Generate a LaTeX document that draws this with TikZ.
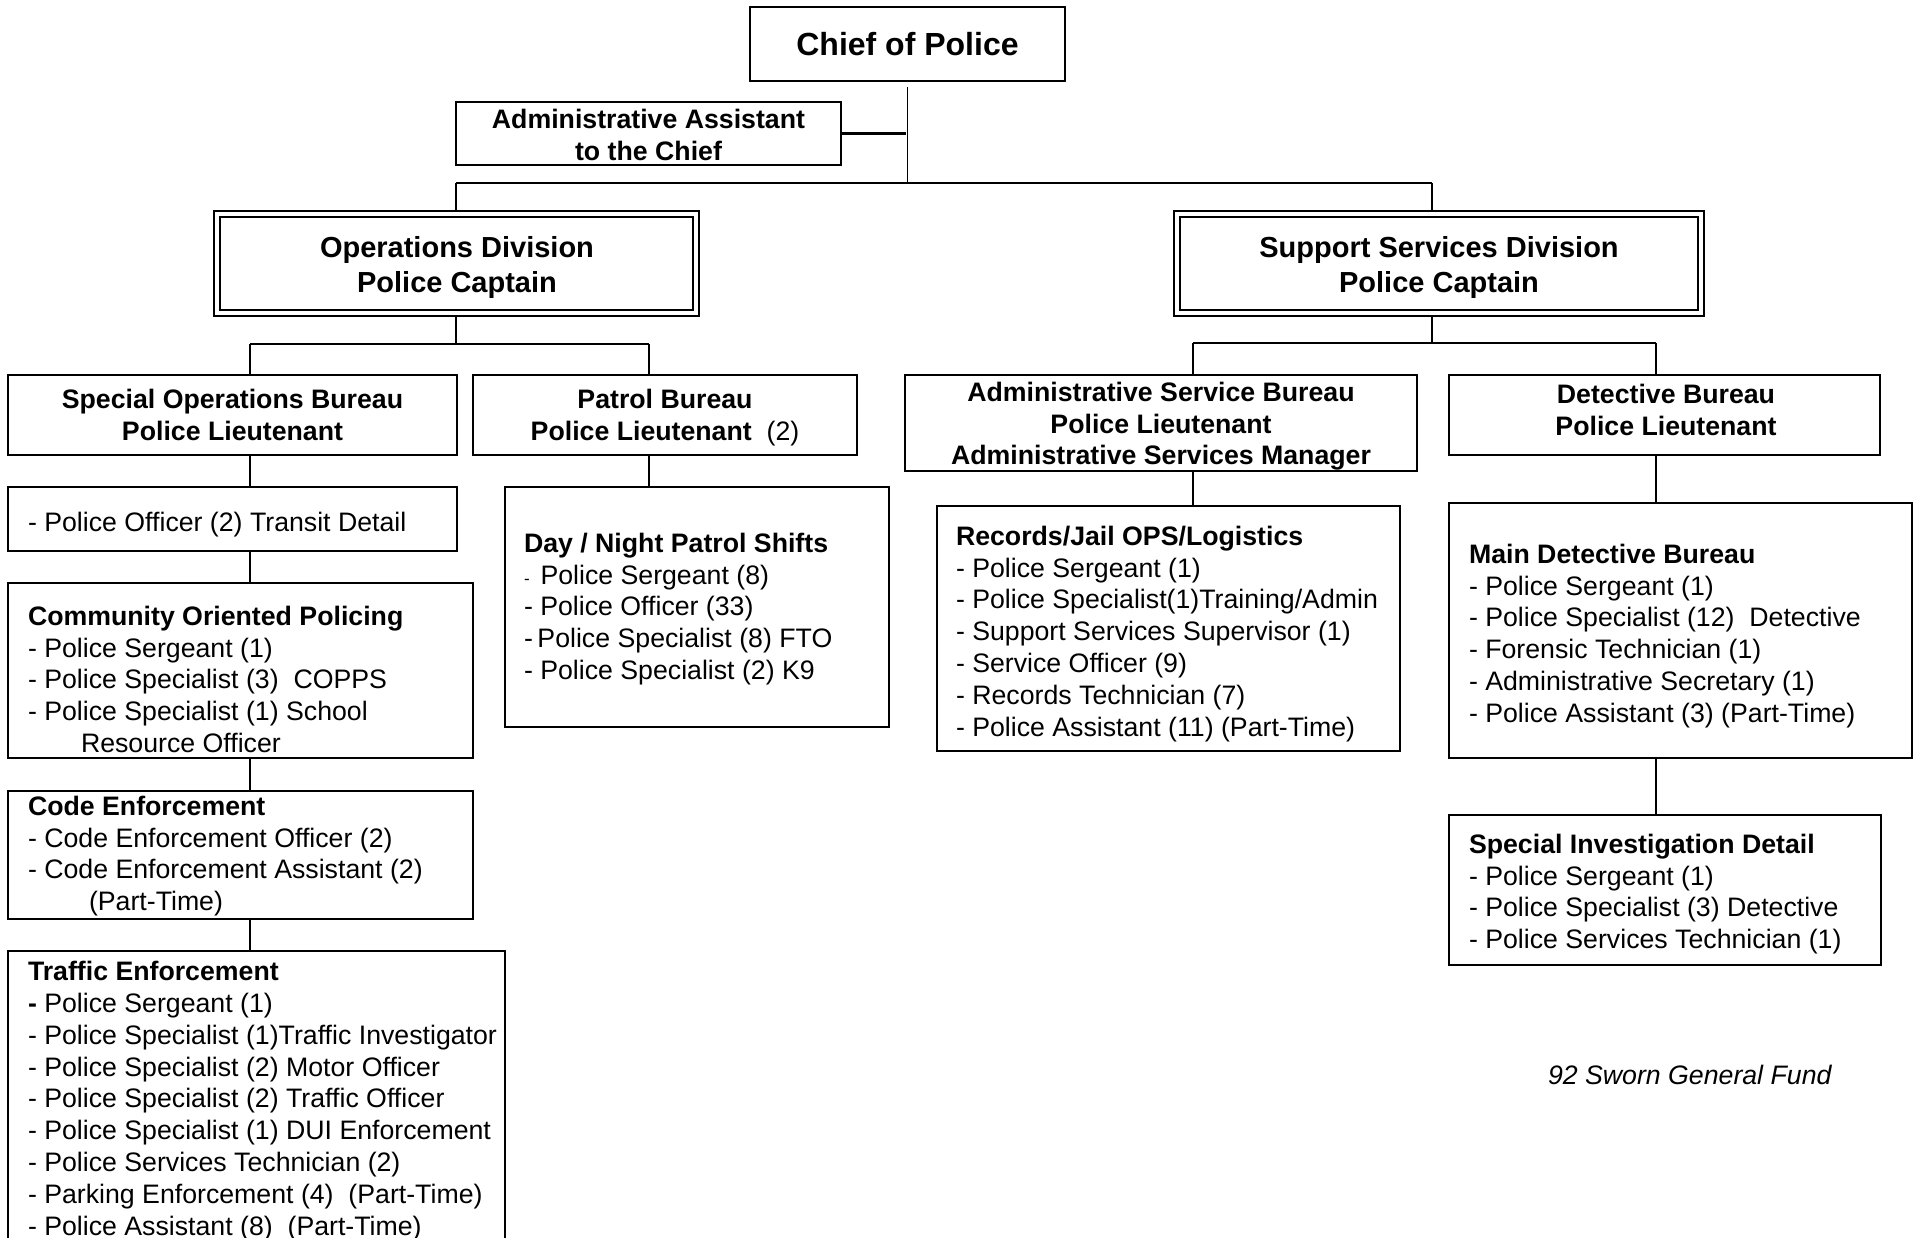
\documentclass[tikz,border=0pt]{standalone}
\usepackage{fontspec}
\setmainfont{Liberation Sans}
\usetikzlibrary{calc}

\begin{document}
\begin{tikzpicture}[x=1pt,y=-1pt,
  orgbox/.style={draw, line width=1.8pt, inner sep=0pt, outer sep=0pt, anchor=north west},
  lbl/.style={inner sep=0pt, outer sep=0pt, align=left, anchor=north west,
              font=\fontsize{26.7}{31.8}\selectfont},
  clbl/.style={lbl, align=center, anchor=north},
  hlbl/.style={clbl, font=\fontsize{26.7}{31.8}\selectfont\bfseries},
  divlbl/.style={clbl, font=\fontsize{29}{35}\selectfont\bfseries},
  link/.style={line width=1.6pt},
  barlink/.style={line width=2.4pt}]

\useasboundingbox (0,0) rectangle (1919,1238);
\fill[white] (0,0) rectangle (1919,1238);
\clip (0,0) rectangle (1919,1238);

% ---- top level ----
\node[orgbox, minimum width=315pt, minimum height=74pt,
      font=\fontsize{32}{38}\selectfont\bfseries] (chief) at (750,7) {Chief of Police};
\node[orgbox, minimum width=385pt, minimum height=63pt] (asst) at (456,102) {};
\node[hlbl] (asst-t) at (648.5,106.5) {\strut Administrative Assistant\\to the Chief};

% ---- divisions (double frame) ----
\node[orgbox, line width=2.6pt, minimum width=485pt, minimum height=105pt] (ops) at (214,211) {};
\draw[line width=1.6pt] ($(ops.north west)+(6,6)$) rectangle ($(ops.south east)+(-6,-6)$);
\node[divlbl] (ops-t) at (457,233) {\strut Operations Division\\Police Captain};

\node[orgbox, line width=2.6pt, minimum width=530pt, minimum height=105pt] (sup) at (1174,211) {};
\draw[line width=1.6pt] ($(sup.north west)+(6,6)$) rectangle ($(sup.south east)+(-6,-6)$);
\node[divlbl] (sup-t) at (1439,233) {\strut Support Services Division\\Police Captain};

% ---- bureaus ----
\node[orgbox, minimum width=449pt, minimum height=80pt] (sob) at (8,375) {};
\node[hlbl] (sob-t) at (232.5,386.5) {\strut Special Operations Bureau\\Police Lieutenant};

\node[orgbox, minimum width=384pt, minimum height=80pt] (patrol) at (473,375) {};
\node[clbl] (patrol-t) at (665,386.5) {\strut\textbf{Patrol Bureau}\\\textbf{Police Lieutenant}\ \ (2)};

\node[orgbox, minimum width=512pt, minimum height=96pt] (asb) at (905,375) {};
\node[hlbl] (asb-t) at (1161,379) {\strut Administrative Service Bureau\\Police Lieutenant\\Administrative Services Manager};

\node[orgbox, minimum width=431pt, minimum height=80pt] (det) at (1449,375) {};
\node[hlbl] (det-t) at (1666,381.5) {\strut Detective Bureau\\Police Lieutenant};

% ---- special operations column ----
\node[orgbox, minimum width=449pt, minimum height=64pt] (transit) at (8,487) {};
\node[lbl] (transit-t) at (28,509) {\strut - Police Officer (2) Transit Detail};

\node[orgbox, minimum width=465pt, minimum height=175pt] (cop) at (8,583) {};
\node[lbl] (cop-t) at (28,603) {\strut\textbf{Community Oriented Policing}\\
  - Police Sergeant (1)\\
  - Police Specialist (3)\ \ COPPS\\
  - Police Specialist (1) School\\
  \hspace*{53pt}Resource Officer};

\node[orgbox, minimum width=465pt, minimum height=128pt] (code) at (8,791) {};
\node[lbl] (code-t) at (28,793) {\strut\textbf{Code Enforcement}\\
  - Code Enforcement Officer (2)\\
  - Code Enforcement Assistant (2)\\
  \hspace*{61pt}(Part-Time)};

\node[orgbox, minimum width=497pt, minimum height=320pt] (traffic) at (8,951) {};
\node[lbl] (traffic-t) at (28,958.5) {\strut\textbf{Traffic Enforcement}\\
  \textbf{-} Police Sergeant (1)\\
  - Police Specialist (1)Traffic Investigator\\
  - Police Specialist (2) Motor Officer\\
  - Police Specialist (2) Traffic Officer\\
  - Police Specialist (1) DUI Enforcement\\
  - Police Services Technician (2)\\
  - Parking Enforcement (4)\ \ (Part-Time)\\
  - Police Assistant (8)\ \ (Part-Time)};

% ---- patrol column ----
\node[orgbox, minimum width=384pt, minimum height=240pt] (shifts) at (505,487) {};
\node[lbl] (shifts-t) at (524,530) {\strut\textbf{Day / Night Patrol Shifts}\\
  \makebox[16.5pt][l]{\fontsize{17}{17}\selectfont -}Police Sergeant (8)\\
  - Police Officer (33)\\
  \makebox[13.5pt][l]{-}Police Specialist (8) FTO\\
  - Police Specialist (2) K9};

% ---- administrative services column ----
\node[orgbox, minimum width=463pt, minimum height=245pt] (records) at (937,506) {};
\node[lbl] (records-t) at (956,523) {\strut\textbf{Records/Jail OPS/Logistics}\\
  - Police Sergeant (1)\\
  - Police Specialist(1)Training/Admin\\
  - Support Services Supervisor (1)\\
  - Service Officer (9)\\
  - Records Technician (7)\\
  - Police Assistant (11) (Part-Time)};

% ---- detective column ----
\node[orgbox, minimum width=463pt, minimum height=255pt] (maindet) at (1449,503) {};
\node[lbl] (maindet-t) at (1469,541) {\strut\textbf{Main Detective Bureau}\\
  - Police Sergeant (1)\\
  - Police Specialist (12)\ \ Detective\\
  - Forensic Technician (1)\\
  - Administrative Secretary (1)\\
  - Police Assistant (3) (Part-Time)};

\node[orgbox, minimum width=432pt, minimum height=150pt] (sid) at (1449,815) {};
\node[lbl] (sid-t) at (1469,831) {\strut\textbf{Special Investigation Detail}\\
  - Police Sergeant (1)\\
  - Police Specialist (3) Detective\\
  - Police Services Technician (1)};

\node[lbl, anchor=west] (fund) at (1548,1075) {\itshape 92 Sworn General Fund};

% ---- trunk positions ----
\coordinate (hub) at (906,183);
\coordinate (opsx) at (456,0);
\coordinate (supx) at (1432,0);
\coordinate (opsbar) at (0,344);
\coordinate (supbar) at (0,343);
\coordinate (sobx) at (250,0);
\coordinate (patx) at (649,0);
\coordinate (asbx) at (1193,0);
\coordinate (detx) at (1656,0);

% ---- connectors ----
\draw[link] ($(chief.south)+(0,6)$) -- (chief.south |- hub);
\draw[barlink] (asst.east) -- (asst.east -| hub);
\draw[barlink] (hub -| opsx) -- (hub -| supx);
\draw[link] (hub -| opsx) -- (ops.north -| opsx);
\draw[link] (hub -| supx) -- (sup.north -| supx);

\draw[link] (ops.south -| opsx) -- (opsbar -| opsx);
\draw[link] (opsbar -| sobx) -- (opsbar -| patx);
\draw[link] (opsbar -| sobx) -- (sob.north -| sobx);
\draw[link] (opsbar -| patx) -- (patrol.north -| patx);

\draw[link] (sup.south -| supx) -- (supbar -| supx);
\draw[link] (supbar -| asbx) -- (supbar -| detx);
\draw[link] (supbar -| asbx) -- (asb.north -| asbx);
\draw[link] (supbar -| detx) -- (det.north -| detx);

\draw[link] (sob.south -| sobx) -- (transit.north -| sobx);
\draw[link] (transit.south -| sobx) -- (cop.north -| sobx);
\draw[link] (cop.south -| sobx) -- (code.north -| sobx);
\draw[link] (code.south -| sobx) -- (traffic.north -| sobx);

\draw[link] (patrol.south -| patx) -- (shifts.north -| patx);
\draw[link] (asb.south -| asbx) -- (records.north -| asbx);
\draw[link] (det.south -| detx) -- (maindet.north -| detx);
\draw[link] (maindet.south -| detx) -- (sid.north -| detx);

\end{tikzpicture}
\end{document}
